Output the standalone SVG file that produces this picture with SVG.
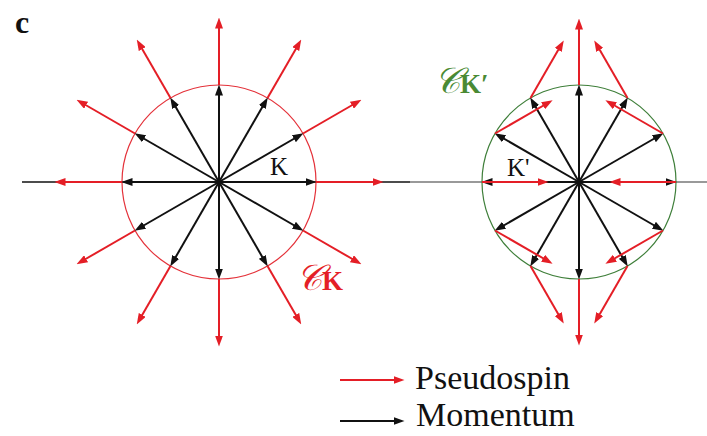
<svg xmlns="http://www.w3.org/2000/svg" width="707" height="436" viewBox="0 0 707 436">
<defs>
<marker id="ah-k" markerUnits="userSpaceOnUse" markerWidth="11" markerHeight="8" refX="6.5" refY="4" orient="auto"><path d="M0,0 L11,4 L0,8 z" fill="#111"/></marker>
<marker id="ah-r" markerUnits="userSpaceOnUse" markerWidth="11" markerHeight="8" refX="6.5" refY="4" orient="auto"><path d="M0,0 L11,4 L0,8 z" fill="#e41e26"/></marker>
<style>
.k{stroke:#111;stroke-width:2;fill:none;marker-end:url(#ah-k)}
.r{stroke:#e41e26;stroke-width:2;fill:none;marker-end:url(#ah-r)}
.txt{font-family:"Liberation Serif","Times New Roman",serif;fill:#111}
.cal{font-family:"DejaVu Serif","DejaVu Sans",serif;font-style:italic}
.sub{font-family:"Liberation Serif","Times New Roman",serif;font-weight:bold;font-size:27px}
</style>
</defs>
<rect width="707" height="436" fill="#fff"/>
<g id="axes">
<line x1="22" y1="182" x2="410" y2="182" stroke="#111" stroke-width="1.6"/>
<line x1="410" y1="182" x2="707" y2="182" stroke="#777" stroke-width="1.4"/>
</g>
<g id="valley-K">
<circle cx="219" cy="182" r="97" fill="none" stroke="#e4323a" stroke-width="1.2"/>
<g id="K-momentum">
<line class="k" x1="219" y1="182" x2="312" y2="182"/>
<line class="k" x1="219" y1="182" x2="312" y2="182" transform="rotate(-30 219 182)"/>
<line class="k" x1="219" y1="182" x2="312" y2="182" transform="rotate(-60 219 182)"/>
<line class="k" x1="219" y1="182" x2="312" y2="182" transform="rotate(-90 219 182)"/>
<line class="k" x1="219" y1="182" x2="312" y2="182" transform="rotate(-120 219 182)"/>
<line class="k" x1="219" y1="182" x2="312" y2="182" transform="rotate(-150 219 182)"/>
<line class="k" x1="219" y1="182" x2="312" y2="182" transform="rotate(-180 219 182)"/>
<line class="k" x1="219" y1="182" x2="312" y2="182" transform="rotate(-210 219 182)"/>
<line class="k" x1="219" y1="182" x2="312" y2="182" transform="rotate(-240 219 182)"/>
<line class="k" x1="219" y1="182" x2="312" y2="182" transform="rotate(-270 219 182)"/>
<line class="k" x1="219" y1="182" x2="312" y2="182" transform="rotate(-300 219 182)"/>
<line class="k" x1="219" y1="182" x2="312" y2="182" transform="rotate(-330 219 182)"/>
</g>
<g id="K-pseudospin">
<line class="r" x1="316" y1="182" x2="379" y2="182"/>
<line class="r" x1="316" y1="182" x2="379" y2="182" transform="rotate(-30 219 182)"/>
<line class="r" x1="316" y1="182" x2="379" y2="182" transform="rotate(-60 219 182)"/>
<line class="r" x1="316" y1="182" x2="379" y2="182" transform="rotate(-90 219 182)"/>
<line class="r" x1="316" y1="182" x2="379" y2="182" transform="rotate(-120 219 182)"/>
<line class="r" x1="316" y1="182" x2="379" y2="182" transform="rotate(-150 219 182)"/>
<line class="r" x1="316" y1="182" x2="379" y2="182" transform="rotate(-180 219 182)"/>
<line class="r" x1="316" y1="182" x2="379" y2="182" transform="rotate(-210 219 182)"/>
<line class="r" x1="316" y1="182" x2="379" y2="182" transform="rotate(-240 219 182)"/>
<line class="r" x1="316" y1="182" x2="379" y2="182" transform="rotate(-270 219 182)"/>
<line class="r" x1="316" y1="182" x2="379" y2="182" transform="rotate(-300 219 182)"/>
<line class="r" x1="316" y1="182" x2="379" y2="182" transform="rotate(-330 219 182)"/>
</g>
<text class="txt" x="270" y="175" font-size="25">K</text>
<text x="296" y="290" fill="#e41e26" font-size="36"><tspan class="cal">𝒞</tspan><tspan class="sub">K</tspan></text>
</g>
<g id="valley-Kp">
<circle cx="579" cy="182" r="97" fill="none" stroke="#3f7f3a" stroke-width="1.2"/>
<g id="Kp-momentum">
<line class="k" x1="579" y1="182" x2="672" y2="182"/>
<line class="k" x1="579" y1="182" x2="672" y2="182" transform="rotate(-30 579 182)"/>
<line class="k" x1="579" y1="182" x2="672" y2="182" transform="rotate(-60 579 182)"/>
<line class="k" x1="579" y1="182" x2="672" y2="182" transform="rotate(-90 579 182)"/>
<line class="k" x1="579" y1="182" x2="672" y2="182" transform="rotate(-120 579 182)"/>
<line class="k" x1="579" y1="182" x2="672" y2="182" transform="rotate(-150 579 182)"/>
<line class="k" x1="579" y1="182" x2="672" y2="182" transform="rotate(-180 579 182)"/>
<line class="k" x1="579" y1="182" x2="672" y2="182" transform="rotate(-210 579 182)"/>
<line class="k" x1="579" y1="182" x2="672" y2="182" transform="rotate(-240 579 182)"/>
<line class="k" x1="579" y1="182" x2="672" y2="182" transform="rotate(-270 579 182)"/>
<line class="k" x1="579" y1="182" x2="672" y2="182" transform="rotate(-300 579 182)"/>
<line class="k" x1="579" y1="182" x2="672" y2="182" transform="rotate(-330 579 182)"/>
</g>
<g id="Kp-pseudospin">
<line class="r" x1="676" y1="182" x2="614" y2="182"/>
<line class="r" x1="663" y1="133.5" x2="609.3" y2="102.5"/>
<line class="r" x1="627.5" y1="98" x2="596.5" y2="44.3"/>
<line class="r" x1="579" y1="85" x2="579" y2="23"/>
<line class="r" x1="530.5" y1="98" x2="561.5" y2="44.3"/>
<line class="r" x1="495" y1="133.5" x2="548.7" y2="102.5"/>
<line class="r" x1="482" y1="182" x2="544" y2="182"/>
<line class="r" x1="495" y1="230.5" x2="548.7" y2="261.5"/>
<line class="r" x1="530.5" y1="266" x2="561.5" y2="319.7"/>
<line class="r" x1="579" y1="279" x2="579" y2="341"/>
<line class="r" x1="627.5" y1="266" x2="596.5" y2="319.7"/>
<line class="r" x1="663" y1="230.5" x2="609.3" y2="261.5"/>
</g>
<text class="txt" x="507" y="176" font-size="25">K'</text>
<text x="434" y="93" fill="#4a8a34" font-size="36"><tspan class="cal">𝒞</tspan><tspan class="sub">K′</tspan></text>
</g>
<g id="legend">
<line class="r" x1="340" y1="380" x2="400" y2="380"/>
<line class="k" x1="340" y1="421" x2="400" y2="421"/>
<text class="txt" x="415" y="389" font-size="34">Pseudospin</text>
<text class="txt" x="416" y="426" font-size="34">Momentum</text>
</g>
<text id="panel-label" class="txt" x="15" y="33" font-size="32" font-weight="bold">c</text>
</svg>
